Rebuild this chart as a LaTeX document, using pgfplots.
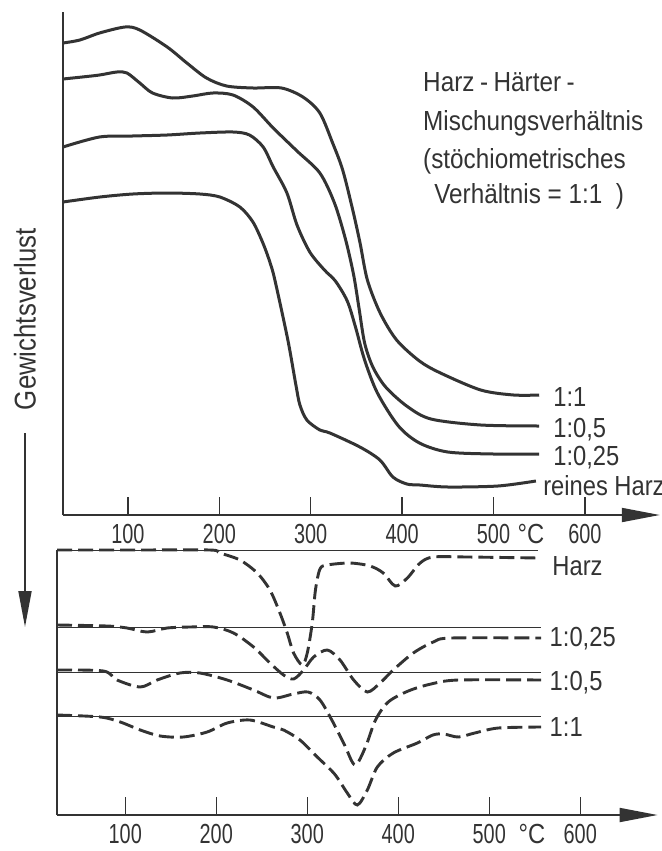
\documentclass[border=0pt]{standalone}
\usepackage{fontspec}
\setmainfont{Liberation Sans}[FakeStretch=0.86]
\newfontfamily\tickfont{Liberation Sans}[FakeStretch=0.72]
\newfontfamily\legfont{Liberation Sans}[FakeStretch=0.88]
\usepackage{pgfplots}
\pgfplotsset{compat=1.18}
\usetikzlibrary{arrows.meta}
\definecolor{ink}{gray}{0.2}
\newcommand\lbl{\fontsize{13.8}{16.5}\selectfont}
\tikzset{lab/.style={anchor=base west, text=ink, inner sep=0, font=\lbl},
         leg/.style={anchor=base west, text=ink, inner sep=0, font=\legfont\lbl}}
\pgfplotsset{
  base/.style={
    axis lines=left,
    enlargelimits=false,
    clip=false,
    anchor=south west,
    ytick=\empty,
    xtick={100,200,300,400,500,600},
    tick align=inside,
    major tick length=9pt,
    tick style={ink, line width=0.75pt},
    axis line style={ink, line width=0.9pt},
    x axis line style={-{Triangle[length=19pt,width=7pt]}},
    y axis line style={-},
    xticklabel style={font=\tickfont\fontsize{13.8}{16.5}\selectfont, text=ink, yshift=-1pt},
    /pgf/number format/assume math mode=true,
  },
  tg/.style={ink, line width=1.5pt, smooth},
  dtg/.style={ink, line width=1.45pt, smooth, dash pattern=on 7.5pt off 3pt},
  bl/.style={ink, line width=0.5pt},
}
\begin{document}
\begin{tikzpicture}
\path[use as bounding box] (0,0) rectangle (331pt,-425.5pt);
% ---------------- upper panel: TG ----------------
\begin{axis}[base, at={(31.5pt,-257.5pt)}, x=0.457pt, y=0.5pt,
  xmin=29, xmax=682, ymin=0, ymax=503]
% 1:1
\addplot[tg] coordinates {(29,472) (47.5,475) (69,482) (97,488) (113,485) (143,468) (164.5,452) (186,437) (208,429) (237,427) (268,427) (291.5,418) (310,402) (324,372) (335,345) (346,305) (354,272) (362,235) (376,202) (394,175) (419,154) (442,142) (486,125) (522,120) (550,120)};
% 1:0,5
\addplot[tg] coordinates {(29,436) (50,438) (69,440) (88,443) (99,442) (113,432) (127,422) (149,417) (171,419) (193,422) (215,420) (237,408) (259,387) (285,364) (310,342) (326,312) (338,276) (347,240) (353,206) (359,172) (368,148) (382,128) (405,109) (431.5,96) (486,90) (550,89)};
% 1:0,25
\addplot[tg] coordinates {(29,368) (69,378) (105,379) (143,380) (179,382) (215,383) (233,380) (248,368) (259,348) (274,322) (285,290) (299,263) (315,245) (327,234) (340,214) (349,188) (359,155) (373,122) (396,89) (419,72) (450,63) (500,61) (550,61)};
% reines Harz
\addplot[tg] coordinates {(29,313) (69.4,318) (105.5,321) (142.7,322) (178.8,321) (200.6,318) (222.5,308) (236.8,293) (247.7,272) (255.3,253) (260.8,235) (275,175) (283.8,130) (288.2,110) (295.8,95) (310,85) (321,82) (353.8,68) (375.7,55) (389.9,38) (405.2,31) (419.4,30) (450,28) (504.8,29) (546.4,34)};
\node[lab] at (axis cs:565,109) {1:1};
\node[lab] at (axis cs:565,78) {1:0,5};
\node[lab] at (axis cs:565,50) {1:0,25};
\node[lab] at (axis cs:554,20) {reines Harz};
\node[anchor=north, text=ink, inner sep=0.333em, font=\lbl, yshift=-1pt] at (axis cs:541,0) {°C};
\node[leg] at (axis cs:422.7,424) {Harz\kern0.2em-\kern0.2em Härter\kern0.2em-};
\node[leg] at (axis cs:422.7,385) {Mischungsverhältnis};
\node[leg] at (axis cs:422.7,347) {(stöchiometrisches};
\node[leg] at (axis cs:434.8,312) {Verhältnis = 1:1\ \ )};
\end{axis}
% ---------------- lower panel: DTG ----------------
\begin{axis}[base, at={(28.5pt,-407.5pt)}, x=0.455pt, y=0.5pt,
  xmin=25, xmax=685, ymin=0, ymax=265]
% baselines
\addplot[bl] coordinates {(25,265) (554,265)};
\addplot[bl] coordinates {(25,188) (557,188)};
\addplot[bl] coordinates {(25,143) (557,143)};
\addplot[bl] coordinates {(25,99) (557,99)};
% Harz
\addplot[dtg] coordinates {(25,265) (110,265) (193,265) (204,262) (226,255) (245,242) (259,225) (270,202) (278,182) (285,162) (294.5,150) (300,162) (305.5,192) (309,225) (314,246) (322,250) (347,252) (369,249) (383.5,242) (396.7,229) (410,237) (424,252) (438.5,258) (476,258) (554,257)};
% 1:0,25
\addplot[dtg] coordinates {(25,190) (80,189) (102,187) (124,183) (146,187) (171,188) (197,188) (219,182) (241,168) (259,152) (274,140) (285,136) (296,145) (307,158) (322,165) (336,155) (351,135) (366,123) (380,132) (394.5,145) (416.5,162) (438.5,173) (458,177) (557,177)};
% 1:0,5
\addplot[dtg] coordinates {(25,145) (76,144) (91,135) (116.5,128) (135,135) (160,142) (182,142) (212,135) (241,125) (263,117) (284.6,121) (301,123) (314,115) (327,95) (341,70) (352.5,50) (364,68) (375,95) (389,113) (411,124) (436,131) (466,135) (557,135)};
% 1:1
\addplot[dtg] coordinates {(25,100) (72.5,98) (94.5,93) (116.5,85) (138.5,79) (163.7,78) (190,83) (212,92) (237,95) (262.7,88) (274,85) (292,75) (311,58) (330,41) (344,22) (355,10) (366,25) (377,48) (394.5,62) (421,72) (438,80) (450,81) (466,78) (484,82) (510,87) (557,88)};
\node[lab] at (axis cs:569,240) {Harz};
\node[lab] at (axis cs:566,169) {1:0,25};
\node[lab] at (axis cs:566,125) {1:0,5};
\node[lab] at (axis cs:566,79) {1:1};
\node[anchor=north, text=ink, inner sep=0.333em, font=\lbl, yshift=-1pt] at (axis cs:547,0) {°C};
\end{axis}
% ---------------- left annotation ----------------
\node[rotate=90, text=ink, font=\fontsize{15}{18}\selectfont] at (12.5pt,-159.5pt) {Gewichtsverlust};
\draw[ink, line width=0.9pt, -{Triangle[length=18pt,width=6.5pt]}] (12.5pt,-216.5pt) -- (12.5pt,-313.5pt);
\end{tikzpicture}
\end{document}
